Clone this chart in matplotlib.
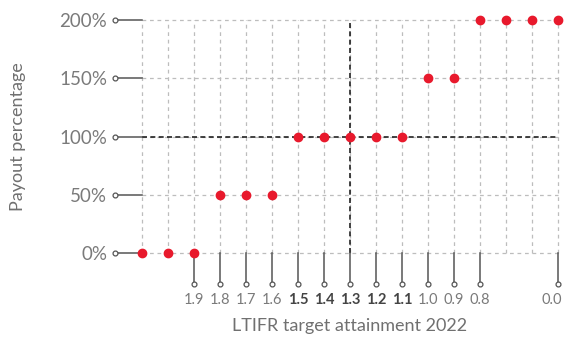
import matplotlib
matplotlib.use("Agg")
import matplotlib.pyplot as plt
import matplotlib.transforms as mtransforms

# Data
payout = [0, 0, 0, 50, 50, 50, 100, 100, 100, 100, 100, 150, 150, 200, 200, 200, 200]
xtick_pos = [2, 3, 4, 5, 6, 7, 8, 9, 10, 11, 12, 13, 16]
xtick_labels = ["1.9", "1.8", "1.7", "1.6", "1.5", "1.4", "1.3", "1.2", "1.1", "1.0", "0.9", "0.8", "0.0"]
bold_labels = ["1.5", "1.4", "1.3", "1.2", "1.1"]
ytick_vals = [0, 50, 100, 150, 200]
ytick_labels = ["0%", "50%", "100%", "150%", "200%"]
target_idx = 8
target_payout = 100

plt.rcParams['font.family'] = ['Lato', 'DejaVu Sans']

W, H = 565, 338
fig = plt.figure(figsize=(W / 100, H / 100), dpi=100)
L, R, T, B = 142, 558, 20, 253
ax = fig.add_axes([L / W, (H - B) / H, (R - L) / W, (B - T) / H])
n = len(payout)
ax.set_xlim(0, n - 1)
ax.set_ylim(0, 200)
for s in ax.spines.values():
    s.set_visible(False)

grid_c = "#bdbdbd"
xs = list(range(n))
# grid
for y in ytick_vals:
    ax.plot([0, n - 1], [y, y], ls=(0, (3, 3)), color=grid_c, lw=0.9, zorder=1, clip_on=False)
for x in xs:
    ax.plot([x, x], [0, 200], ls=(0, (3, 3)), color=grid_c, lw=0.9, zorder=1, clip_on=False)

# reference lines
ax.plot([0, n - 1], [target_payout, target_payout], ls=(0, (3, 2)), color="#222222", lw=1.2, zorder=2, clip_on=False)
ax.plot([target_idx, target_idx], [0, 200], ls=(0, (3, 2)), color="#222222", lw=1.2, zorder=2, clip_on=False)

# y-tick stems with circles
px_x = (n - 1) / (R - L)
px_y = 200 / (B - T)
stem_x = -(L - 115) * px_x
for y in ytick_vals:
    ax.plot([stem_x, 0], [y, y], color="#555555", lw=1.1, zorder=2, clip_on=False)
    ax.plot([stem_x], [y], marker="o", ms=3.5, mfc="white", mec="#555555", mew=0.9, zorder=3, clip_on=False)

# x-tick stems with circles
stem_y = -(284 - B) * px_y
for x in xtick_pos:
    ax.plot([x, x], [stem_y, 0], color="#555555", lw=1.1, zorder=2, clip_on=False)
    ax.plot([x], [stem_y], marker="o", ms=3.5, mfc="white", mec="#555555", mew=0.9, zorder=3, clip_on=False)

# points
ax.plot(xs, payout, ls="none", marker="o", ms=6, color="#e8192c", mec="#e8192c", zorder=5, clip_on=False)

# ticks
ax.set_xticks(xtick_pos)
ax.set_xticklabels(xtick_labels)
ax.set_yticks(ytick_vals)
ax.set_yticklabels(ytick_labels)
ax.tick_params(axis="x", length=0, pad=29, labelsize=10.5, labelcolor="#7a7a7a")
ax.tick_params(axis="y", length=0, pad=25, labelsize=13.5, labelcolor="#7a7a7a")
for lab in ax.get_xticklabels():
    if lab.get_text() in bold_labels:
        lab.set_fontweight("bold")
        lab.set_color("#444444")
    if lab.get_text() == "0.0":
        lab.set_horizontalalignment("right")
        lab.set_transform(lab.get_transform() + mtransforms.ScaledTranslation(4 / 100, 0, fig.dpi_scale_trans))

ax.set_xlabel("LTIFR target attainment 2022", fontsize=13, color="#707070")
ax.set_ylabel("Payout percentage", fontsize=13, color="#707070")
ax.yaxis.set_label_coords(-(L - 18) / (R - L), 0.5)
ax.xaxis.set_label_coords(0.5, -(326 - B) / (B - T))
ax.xaxis.label.set_va("center")
ax.yaxis.label.set_va("center")

fig.savefig("out.png", dpi=100)
